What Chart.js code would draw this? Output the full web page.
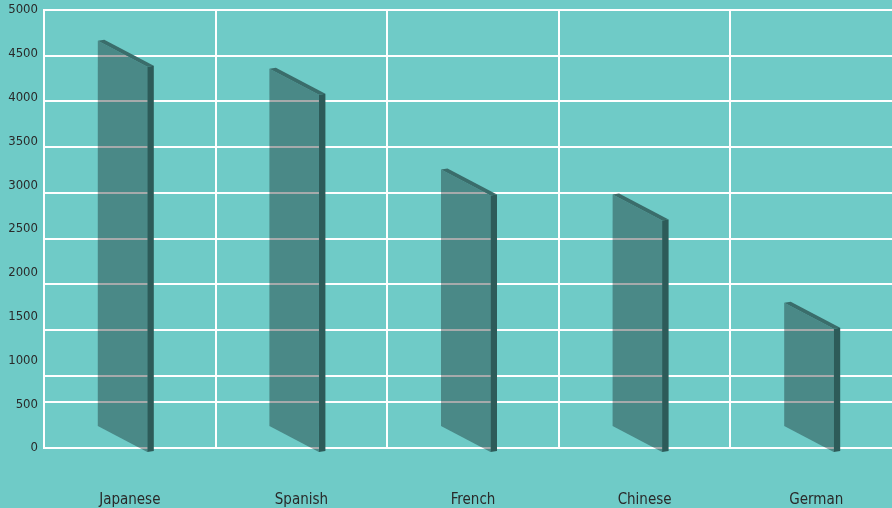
<!DOCTYPE html>
<html>
<head>
<meta charset="utf-8">
<script src="https://cdn.jsdelivr.net/npm/chart.js@4"></script>
<style>
  html, body { margin: 0; padding: 0; background: #6fcbc7; overflow: hidden; }
  #wrap { width: 892px; height: 508px; overflow: hidden; }
</style>
</head>
<body>
<div id="wrap"><canvas id="langChart" width="904" height="508"></canvas></div>
<script>
// chart data
const languages = ['Japanese', 'Spanish', 'French', 'Chinese', 'German'];
const speakers = [4500, 4180, 3030, 2745, 1510];
const tickValues = [0, 500, 1000, 1500, 2000, 2500, 3000, 3500, 4000, 4500, 5000];
const gridValues = [5000, 4478, 3956, 3434, 2911, 2389, 1867, 1345, 823, 522, 0];

// look of the slanted 3d bars
const FRONT = 'rgba(8, 20, 22, 0.36)';
const SIDE = '#2d5b59';
const TOP = '#3a6d6b';
const SKEW = 26;
const SIDE_W = 6.5;
const DEPTH_Y = -1;
const SHIFT_X = -4;
const LIFT = 9;

function poly(ctx, pts, color) {
    ctx.beginPath();
    ctx.moveTo(pts[0][0], pts[0][1]);
    for (let i = 1; i < pts.length; i++) ctx.lineTo(pts[i][0], pts[i][1]);
    ctx.closePath();
    ctx.fillStyle = color;
    ctx.fill();
}

const slantBars = {
    id: 'slantBars',
    afterDatasetsDraw(chart) {
        const ctx = chart.ctx;
        const meta = chart.getDatasetMeta(0);
        ctx.save();
        meta.data.forEach(bar => {
            const { x, y, base, width } = bar.getProps(['x', 'y', 'base', 'width'], true);
            const xl = x - width / 2 + SHIFT_X;
            const xr = xl + width - SIDE_W;
            const yb = base - LIFT;
            const tl = [xl, y - SKEW / 2], tr = [xr, y + SKEW / 2];
            const br = [xr, yb + SKEW / 2], bl = [xl, yb - SKEW / 2];
            poly(ctx, [tl, tr, br, bl], FRONT);
            poly(ctx, [tl, [tl[0] + SIDE_W, tl[1] + DEPTH_Y], [tr[0] + SIDE_W, tr[1] + DEPTH_Y], tr], TOP);
            poly(ctx, [tr, [tr[0] + SIDE_W, tr[1] + DEPTH_Y], [br[0] + SIDE_W, br[1] + DEPTH_Y], br], SIDE);
        });
        ctx.restore();
    }
};

Chart.defaults.font.family = '"DejaVu Sans Condensed", "DejaVu Sans", sans-serif';
Chart.defaults.font.size = 14;
Chart.defaults.color = '#2a2a2a';

new Chart(document.getElementById('langChart'), {
    type: 'bar',
    data: {
        labels: languages,
        datasets: [{
            data: speakers,
            backgroundColor: 'transparent',
            borderWidth: 0,
            barThickness: 56
        }]
    },
    options: {
        responsive: false,
        animation: false,
        layout: { padding: { top: 10, left: 0, right: 0, bottom: 0 } },
        plugins: { legend: { display: false }, tooltip: { enabled: false } },
        scales: {
            x: {
                afterFit: s => { s.height = 60; },
                grid: { color: '#ffffff', lineWidth: 2, drawTicks: false, offset: true },
                border: { display: false },
                ticks: { padding: 43, font: { size: 15 } }
            },
            y: {
                min: 0, max: 5000,
                afterBuildTicks: s => { s.ticks = tickValues.map(v => ({ value: v })); },
                afterFit: s => { s.width = 44; s.paddingTop = 0; s.paddingBottom = 0; },
                grid: { display: false, drawTicks: false },
                border: { display: true, color: '#ffffff', width: 2 },
                ticks: { padding: 6, callback: v => String(v), font: { size: 13 } }
            },
            yGrid: {
                position: 'right',
                min: 0, max: 5000,
                afterBuildTicks: s => { s.ticks = gridValues.map(v => ({ value: v })); },
                afterFit: s => { s.width = 2; s.paddingTop = 0; s.paddingBottom = 0; },
                grid: { color: '#ffffff', lineWidth: 2, drawTicks: false },
                border: { display: false },
                ticks: { display: false }
            }
        }
    },
    plugins: [slantBars]
});
</script>
</body>
</html>
